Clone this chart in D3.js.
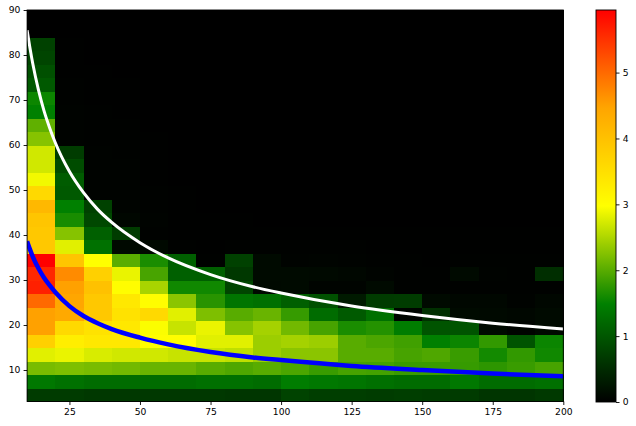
<!DOCTYPE html>
<html><head><meta charset="utf-8">
<script src="https://cdn.jsdelivr.net/npm/d3@7"></script>
<style>
body{margin:0;background:#fff}
text{font-family:"DejaVu Sans",sans-serif;font-size:9.2px;fill:#000}
</style>
</head><body>
<svg id="c" width="636" height="426"></svg>
<script>
// ---- data ----
const xEdges = [10,20,30,40,50,60,70,80,90,100,110,120,130,140,150,160,170,180,190,200];
const yEdges = [3,6,9,12,15,18,21,24,27,30,33,36,39,42,45,48,51,54,57,60,63,66,69,72,75,78,81,84,87,90];
const xTicks = [25,50,75,100,125,150,175,200];
const yTicks = [10,20,30,40,50,60,70,80,90];
const cTicks = [0,1,2,3,4,5];
const colorStops = ["#000000","#008000","#ffff00","#ffa500","#ff0000"];
const colorMax = 5.95;

// each array: one x bin, values from the lowest y bin (3-6) up to the highest (87-90)
const c10  = [0.68,1.40,2.19,2.80,3.75,4.50,4.50,5.00,5.66,5.60,5.95,3.88,3.88,3.93,4.15,3.60,2.90,2.70,2.70,2.27,2.05,1.49,1.56,1.03,0.93,0.80,0.75,0,0];
const c20  = [0.68,1.31,2.22,2.85,3.26,3.60,4.40,4.45,4.50,4.70,3.93,2.80,2.27,1.63,1.49,1.03,1.07,0.88,0.70,0.04,0.03,0.03,0.02,0.02,0.01,0.01,0.01,0,0];
const c30  = [0.65,1.26,2.19,2.75,3.35,3.45,3.88,3.88,4.00,3.75,2.98,1.31,1.12,0.84,0.75,0.04,0.04,0.03,0.03,0.02,0.02,0.02,0.01,0.01,0.01,0,0,0,0];
const c40  = [0.65,1.26,2.15,2.70,3.35,3.35,3.45,3.35,3.00,2.85,2.01,0.10,0.70,0.08,0.05,0.04,0.03,0.03,0.02,0.02,0.02,0.01,0.01,0.01,0,0,0,0,0];
const c50  = [0.65,1.26,2.10,2.70,3.00,2.95,3.60,3.00,2.47,1.91,1.64,0.10,0.02,0.04,0.02,0.02,0.01,0.01,0.01,0.01,0,0,0,0,0,0,0,0,0];
const c60  = [0.65,1.26,2.10,2.65,3.00,2.65,2.80,2.30,1.58,1.12,1.12,0.02,0.01,0.01,0.01,0.01,0,0,0,0,0,0,0,0,0,0,0,0,0];
const c70  = [0.65,1.30,2.00,2.65,2.80,2.85,2.22,1.72,1.58,1.10,0.02,0.01,0.01,0.01,0,0,0,0,0,0,0,0,0,0,0,0,0,0,0];
const c80  = [0.63,1.30,1.95,2.60,2.80,2.27,2.00,1.36,0.80,0.65,0.75,0.02,0.01,0.01,0,0,0,0,0,0,0,0,0,0,0,0,0,0,0];
const c90  = [0.63,1.26,2.00,2.40,2.40,2.45,2.10,1.30,0.10,0.12,0.12,0.02,0.01,0,0,0,0,0,0,0,0,0,0,0,0,0,0,0,0];
const c100 = [0.78,1.45,1.93,2.30,2.45,2.15,1.80,1.10,0.12,0.12,0.03,0.02,0.01,0,0,0,0,0,0,0,0,0,0,0,0,0,0,0,0];
const c110 = [0.72,1.40,1.82,2.30,2.40,1.90,1.26,0.94,0.05,0.10,0.05,0.02,0.01,0,0,0,0,0,0,0,0,0,0,0,0,0,0,0,0];
const c120 = [0.72,1.36,1.90,2.00,2.00,1.64,1.05,0.30,0.05,0.08,0.03,0.02,0.01,0,0,0,0,0,0,0,0,0,0,0,0,0,0,0,0];
const c130 = [0.70,1.30,1.88,2.00,1.93,1.70,1.30,0.68,0.12,0.05,0.02,0.01,0.01,0,0,0,0,0,0,0,0,0,0,0,0,0,0,0,0];
const c140 = [0.72,1.26,1.82,1.90,1.86,1.45,0.06,0.70,0.02,0.02,0.02,0.01,0.01,0,0,0,0,0,0,0,0,0,0,0,0,0,0,0,0];
const c150 = [0.70,1.26,1.82,1.95,1.49,0.98,0.56,0.12,0.02,0.02,0.01,0.01,0.01,0,0,0,0,0,0,0,0,0,0,0,0,0,0,0,0];
const c160 = [0.68,1.40,1.80,1.82,1.55,0.98,0.12,0.08,0.02,0.12,0.02,0.01,0.01,0,0,0,0,0,0,0,0,0,0,0,0,0,0,0,0];
const c170 = [0.62,1.26,1.75,1.60,1.78,0.12,0.10,0.08,0.02,0.04,0.02,0.01,0.01,0,0,0,0,0,0,0,0,0,0,0,0,0,0,0,0];
const c180 = [0.62,1.26,1.82,1.78,0.98,0.05,0.08,0.03,0.02,0.02,0.02,0.01,0.01,0,0,0,0,0,0,0,0,0,0,0,0,0,0,0,0];
const c190 = [0.66,1.30,1.90,1.58,1.55,0.12,0.12,0.08,0.02,0.54,0.02,0.01,0.01,0,0,0,0,0,0,0,0,0,0,0,0,0,0,0,0];
const columns = [c10,c20,c30,c40,c50,c60,c70,c80,c90,c100,c110,c120,c130,c140,c150,c160,c170,c180,c190];

const curveX = [10,11,12,14,16,18,20,25,30,35,40,50,60,75,90,100,125,150,175,200];
const whiteY = [85.5,81.6,78.1,72.3,67.6,63.8,60.5,54.1,49.4,45.7,42.8,38.3,34.9,31.2,28.5,27.1,24.2,22.1,20.4,19.1];
const blueY  = [38.6,36.8,35.2,32.6,30.5,28.8,27.3,24.2,22.0,20.4,19.1,17.2,15.7,14.0,12.8,12.2,10.9,10.0,9.2,8.6];

// ---- layout ----
const L = 27.1, R = 563.3, T = 10, B = 401.5;
const CBL = 596, CBR = 616;
const svg = d3.select("#c");

const x = d3.scaleLinear().domain([10,200]).range([L,R]);
const y = d3.scaleLinear().domain([3,90]).range([B,T]);
const color = d3.scaleLinear()
  .domain(colorStops.map((_,i)=> colorMax*i/(colorStops.length-1)))
  .range(colorStops).interpolate(d3.interpolateRgb).clamp(true);

// cells
const cells = [];
columns.forEach((col,i)=> col.forEach((v,j)=> cells.push({i,j,v})));
svg.append("g").attr("shape-rendering","crispEdges")
  .selectAll("rect").data(cells).join("rect")
  .attr("x", d=>x(xEdges[d.i]))
  .attr("y", d=>y(yEdges[d.j+1]))
  .attr("width", d=>x(xEdges[d.i+1])-x(xEdges[d.i])+0.6)
  .attr("height", d=>y(yEdges[d.j])-y(yEdges[d.j+1])+0.6)
  .attr("fill", d=>color(d.v));

// clip
svg.append("clipPath").attr("id","pc").append("rect")
  .attr("x",L).attr("y",T).attr("width",R-L).attr("height",B-T);

const line = d3.line().x(d=>x(d[0])).y(d=>y(d[1])).curve(d3.curveMonotoneX);
const g = svg.append("g").attr("clip-path","url(#pc)");
g.append("path").datum(curveX.map((v,k)=>[v,whiteY[k]]))
  .attr("d",line).attr("fill","none").attr("stroke","#fff").attr("stroke-width",3);
g.append("path").datum(curveX.map((v,k)=>[v,blueY[k]]))
  .attr("d",line).attr("fill","none").attr("stroke","#0000ff").attr("stroke-width",4.5);

// frame
svg.append("rect").attr("x",L).attr("y",T).attr("width",R-L).attr("height",B-T)
  .attr("fill","none").attr("stroke","#000").attr("stroke-width",0.9);

// axes
function styleAxis(sel){
  sel.select(".domain").remove();
  sel.selectAll(".tick line").attr("stroke","#000").attr("stroke-width",0.9);
  sel.selectAll(".tick text").attr("fill","#000").style("font-family","DejaVu Sans").style("font-size","9.2px");
}
svg.append("g").attr("transform",`translate(0,${B})`)
  .call(d3.axisBottom(x).tickValues(xTicks).tickSize(3.5).tickPadding(3.2))
  .call(styleAxis);
svg.append("g").attr("transform",`translate(${L},0)`)
  .call(d3.axisLeft(y).tickValues(yTicks).tickSize(3.5).tickPadding(3.2))
  .call(styleAxis);

// colorbar
const cy = d3.scaleLinear().domain([0,colorMax]).range([402,T]);
const defs = svg.append("defs");
const grad = defs.append("linearGradient").attr("id","cb")
  .attr("x1",0).attr("y1",1).attr("x2",0).attr("y2",0);
d3.range(0,41).forEach(k=>{
  const v = colorMax*k/40;
  grad.append("stop").attr("offset",(k/40*100)+"%").attr("stop-color",color(v));
});
svg.append("rect").attr("x",CBL).attr("y",T).attr("width",CBR-CBL).attr("height",402-T)
  .attr("fill","url(#cb)").attr("stroke","#000").attr("stroke-width",0.9);
svg.append("g").attr("transform",`translate(${CBR},0)`)
  .call(d3.axisRight(cy).tickValues(cTicks).tickFormat(d3.format("d")).tickSize(3.5).tickPadding(3.2))
  .call(styleAxis);
</script>
</body></html>
